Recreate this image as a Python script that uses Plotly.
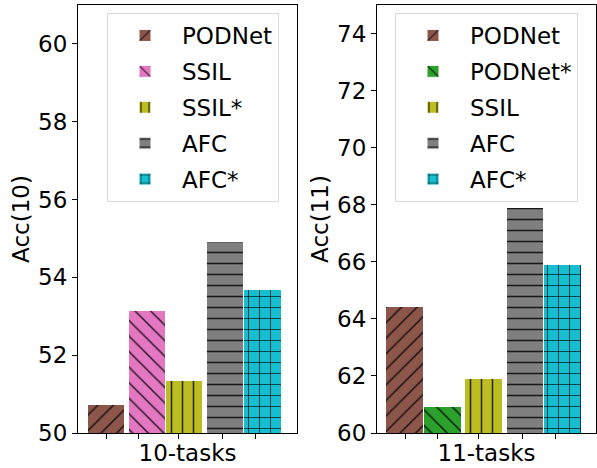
import plotly.graph_objects as go

# ---- data ----
methods_10 = ["PODNet", "SSIL", "SSIL*", "AFC", "AFC*"]
acc_10 = [50.72, 53.14, 51.34, 54.90, 53.68]
methods_11 = ["PODNet", "PODNet*", "SSIL", "AFC", "AFC*"]
acc_11 = [64.42, 60.90, 61.90, 67.89, 65.89]
yticks_10 = [50, 52, 54, 56, 58, 60]
yticks_11 = [60, 62, 64, 66, 68, 70, 72, 74]
group_10 = "10-tasks"
group_11 = "11-tasks"

# ---- styles / layout (not data) ----
pos_10 = [0, 1.1, 2.1, 3.2, 4.2]
pos_11 = [0, 1.0, 2.1, 3.2, 4.2]
xtick_pos = [0, 0.87, 1.94, 3.12, 4.0]
colors_10 = ["#8c564b", "#e377c2", "#bcbd22", "#7f7f7f", "#17becf"]
hatch_10 = ["/", "\\", "|", "-", "+"]
colors_11 = ["#8c564b", "#2ca02c", "#bcbd22", "#7f7f7f", "#17becf"]
hatch_11 = ["/", "\\", "|", "-", "+"]

FONT = "DejaVu Sans"
FS = 23
W, H = 597, 468
MT, MB = 5, 468 - 433


def px_x(x):
    return x / W


def px_y(y):
    # screen y -> paper y (paper spans plot area between margins)
    bottom = H - MB
    return (bottom - y) / (bottom - MT)


fig = go.Figure()


def add_bars(names, vals, pos, cols, hatches, xa, ya, legend):
    for n, v, p, c, h in zip(names, vals, pos, cols, hatches):
        fig.add_trace(go.Bar(
            x=[p], y=[v], width=[1], name=n,
            xaxis=xa, yaxis=ya, legend=legend, legendgroup=legend + n,
            marker=dict(color=c, line=dict(color="white", width=1),
                        pattern=dict(shape=h, fgcolor="black", fgopacity=0.8,
                                     size=11, solidity=0.14)),
            hoverinfo="skip",
        ))


add_bars(methods_10, acc_10, pos_10, colors_10, hatch_10, "x", "y", "legend")
add_bars(methods_11, acc_11, pos_11, colors_11, hatch_11, "x2", "y2", "legend2")

axis_common = dict(showline=True, linecolor="black", linewidth=1, mirror=True,
                   ticks="outside", ticklen=5, tickcolor="black", showgrid=False,
                   zeroline=False, tickfont=dict(family=FONT, size=FS, color="black"))

legend_common = dict(font=dict(family=FONT, size=FS, color="black"),
                     bgcolor="rgba(255,255,255,0.8)", bordercolor="#d9d9d9", borderwidth=1,
                     itemwidth=64, tracegroupgap=3, xanchor="left", yanchor="top",
                     yref="paper", xref="paper", traceorder="grouped")

title_font = dict(family=FONT, size=FS, color="black")

fig.update_layout(
    width=W, height=H,
    margin=dict(l=0, r=0, t=MT, b=MB, autoexpand=False),
    plot_bgcolor="white", paper_bgcolor="white",
    barmode="overlay", bargap=0,
    showlegend=True,
    xaxis=dict(domain=[px_x(78), px_x(297)], range=[-0.76, 5.11], tickvals=xtick_pos,
               showticklabels=False,
               title=dict(text=group_10, standoff=6, font=title_font),
               **axis_common),
    yaxis=dict(range=[50, 61], tickvals=yticks_10,
               title=dict(text="Acc(10)", standoff=2, font=title_font),
               **axis_common),
    xaxis2=dict(domain=[px_x(377), px_x(596)], range=[-0.75, 5.08], tickvals=xtick_pos,
                showticklabels=False, anchor="y2",
                title=dict(text=group_11, standoff=6, font=title_font),
                **axis_common),
    yaxis2=dict(range=[60, 75], tickvals=yticks_11, anchor="x2",
                title=dict(text="Acc(11)", standoff=2, font=title_font),
                **axis_common),
    legend=dict(x=px_x(107), y=px_y(13), **legend_common),
    legend2=dict(x=px_x(395), y=px_y(13), **legend_common),
)

fig.write_html("out.html", config={"displayModeBar": False},
               post_script="document.body.style.margin='0';")
